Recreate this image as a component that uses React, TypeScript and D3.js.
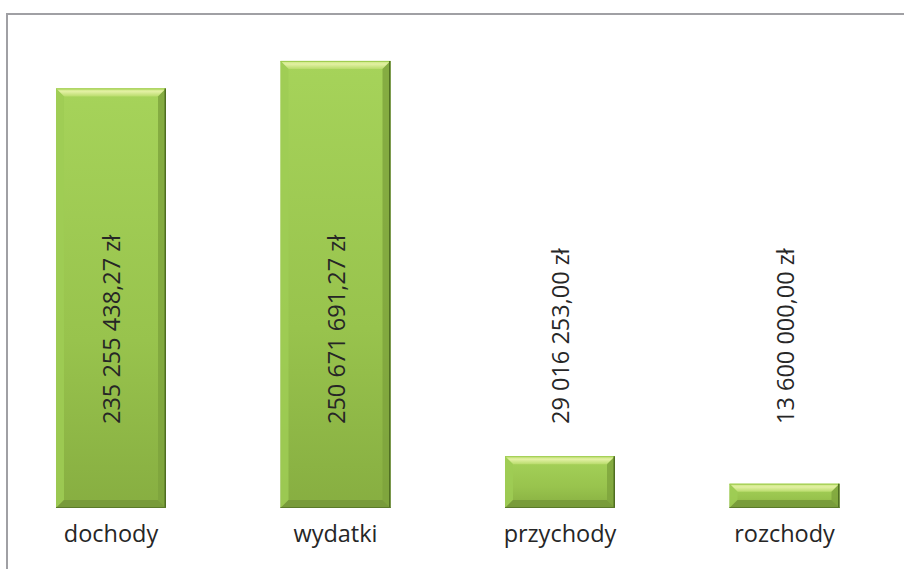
import React from "react";
import * as d3 from "d3";

const categories: string[] = ["dochody", "wydatki", "przychody", "rozchody"];
const values: number[] = [235255438.27, 250671691.27, 29016253.0, 13600000.0];

const W = 904;
const H = 569;
const BASE_Y = 508;
const LABEL_START_Y = 424;
const FONT = "'Open Sans', 'Noto Sans', sans-serif";

const pl = d3.formatLocale({
  decimal: ",",
  thousands: "\u00a0",
  grouping: [3],
  currency: ["", " zł"],
});
const fmt = (v: number) => pl.format("$,.2f")(v).replace(/\u00a0/g, " ");

export default function App() {
  const x = d3
    .scaleBand<string>()
    .domain(categories)
    .range([-1.25, 896.75])
    .paddingInner(0.51)
    .paddingOuter(0.255);
  const y = d3.scaleLinear().domain([0, 250e6]).range([BASE_Y, BASE_Y - 250 * 1.7835]);

  const bw = x.bandwidth();
  const bev = 8;

  return (
    <svg width={W} height={H} style={{ display: "block", position: "absolute", left: 0, top: 0 }}>
      <defs>
        <linearGradient id="body" x1="0" y1="0" x2="0" y2="1">
          <stop offset="0" stopColor="#a6d35a" />
          <stop offset="0.6" stopColor="#98c34d" />
          <stop offset="1" stopColor="#87ae41" />
        </linearGradient>
        <linearGradient id="topBev" x1="0" y1="0" x2="0" y2="1">
          <stop offset="0" stopColor="#c8e57e" />
          <stop offset="0.4" stopColor="#e2f0a2" />
          <stop offset="1" stopColor="#b9dc6c" />
        </linearGradient>
      </defs>
      <rect x={0} y={0} width={W} height={H} fill="#ffffff" />
      <rect x={7} y={14} width={W + 10} height={H + 10} fill="none" stroke="#a0a0a4" strokeWidth={2} />
      {categories.map((c, i) => {
        const x0 = x(c) as number;
        const x1 = x0 + bw;
        const yt = y(values[i]);
        const yb = y(0);
        const h = yb - yt;
        const b = Math.min(bev, h / 2);
        return (
          <g key={c}>
            <rect x={x0} y={yt} width={bw} height={h} fill="url(#body)" />
            <polygon
              points={`${x0},${yt} ${x1},${yt} ${x1 - b},${yt + b} ${x0 + b},${yt + b}`}
              fill="url(#topBev)"
            />
            <polygon
              points={`${x0},${yt} ${x0 + b},${yt + b} ${x0 + b},${yb - b} ${x0},${yb}`}
              fill="#9fcc55"
              opacity={0.85}
            />
            <polygon
              points={`${x1},${yt} ${x1 - b},${yt + b} ${x1 - b},${yb - b} ${x1},${yb}`}
              fill="#7da23c"
              opacity={0.8}
            />
            <polygon
              points={`${x0},${yb} ${x0 + b},${yb - b} ${x1 - b},${yb - b} ${x1},${yb}`}
              fill="#77993a"
              opacity={0.9}
            />
            <line x1={x0} x2={x1} y1={yt + 0.5} y2={yt + 0.5} stroke="#9ccb4c" strokeWidth={1} />
            <line x1={x1 - 0.75} x2={x1 - 0.75} y1={yt} y2={yb} stroke="#4f6e22" strokeWidth={1.5} />
            <line x1={x0} x2={x1} y1={yb - 0.5} y2={yb - 0.5} stroke="#5b7a2a" strokeWidth={1} />
            <text
              transform={`translate(${x0 + bw / 2},${LABEL_START_Y}) rotate(-90)`}
              textAnchor="start"
              dominantBaseline="central"
              fontFamily={FONT}
              fontSize={23.5}
              fill="#262626"
            >
              {fmt(values[i])}
            </text>
            <text
              x={x0 + bw / 2}
              y={542}
              textAnchor="middle"
              fontFamily={FONT}
              fontSize={23.5}
              fill="#262626"
            >
              {c}
            </text>
          </g>
        );
      })}
    </svg>
  );
}
